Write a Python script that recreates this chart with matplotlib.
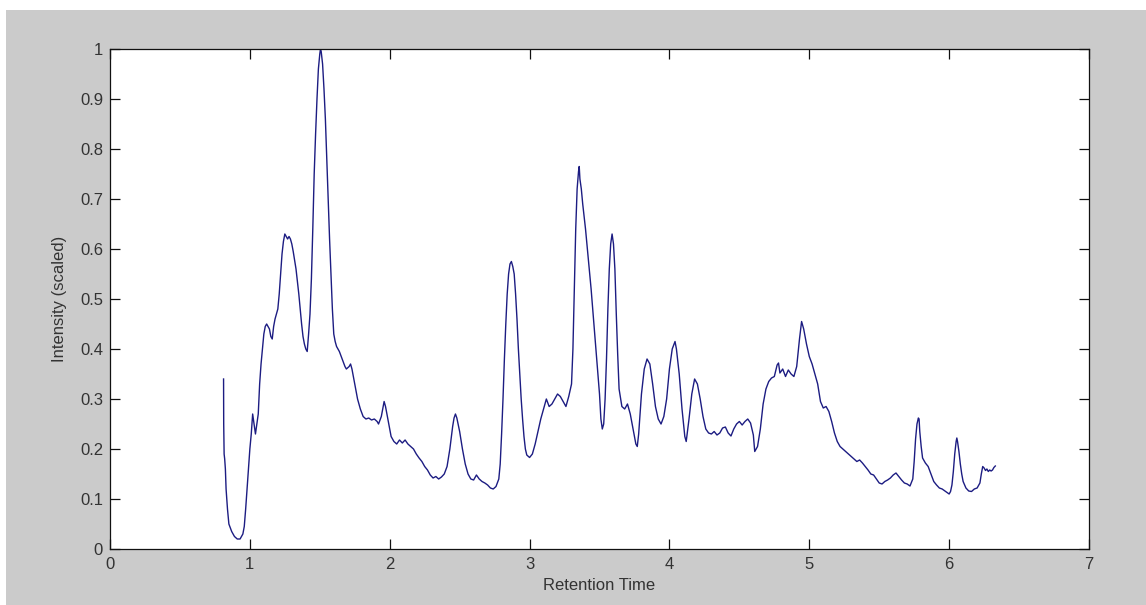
import numpy as np
import matplotlib.pyplot as plt
from matplotlib.patches import Rectangle

plt.rcParams['font.family'] = ['Liberation Sans', 'DejaVu Sans']

# retention time / scaled intensity
rt = [0.812, 0.813, 0.816, 0.82, 0.825, 0.83, 0.84, 0.85, 0.87, 0.89, 0.91, 0.93,
      0.95, 0.96, 0.97, 0.98, 0.99, 1.00, 1.01, 1.02, 1.03, 1.04, 1.05, 1.06,
      1.07, 1.08, 1.09, 1.10, 1.11, 1.12, 1.13, 1.14, 1.15, 1.16, 1.17, 1.18,
      1.19, 1.20, 1.21, 1.22, 1.23, 1.24, 1.25, 1.26, 1.27, 1.28, 1.29, 1.30,
      1.31, 1.33, 1.35, 1.37, 1.38, 1.39, 1.40, 1.41, 1.42, 1.43, 1.44, 1.45,
      1.46, 1.47, 1.48, 1.49, 1.50, 1.505, 1.51, 1.52, 1.53, 1.54, 1.55, 1.56,
      1.57, 1.58, 1.59, 1.60, 1.61, 1.62, 1.64, 1.66, 1.68, 1.69, 1.71, 1.72,
      1.73, 1.75, 1.77, 1.79, 1.81, 1.83, 1.85, 1.87, 1.89, 1.91, 1.92, 1.94,
      1.96, 1.97, 1.99, 2.01, 2.03, 2.05, 2.07, 2.09, 2.11, 2.13, 2.15, 2.17,
      2.19, 2.21, 2.23, 2.25, 2.27, 2.29, 2.31, 2.33, 2.35, 2.37, 2.39, 2.41,
      2.43, 2.45, 2.46, 2.47, 2.48, 2.50, 2.52, 2.54, 2.56, 2.58, 2.60, 2.62,
      2.64, 2.66, 2.68, 2.70, 2.72, 2.74, 2.76, 2.78, 2.79, 2.80, 2.81, 2.82,
      2.83, 2.84, 2.85, 2.86, 2.87, 2.88, 2.89, 2.90, 2.91, 2.92, 2.93, 2.94,
      2.95, 2.96, 2.97, 2.98, 3.00, 3.02, 3.04, 3.06, 3.08, 3.10, 3.12, 3.14,
      3.16, 3.18, 3.20, 3.22, 3.24, 3.26, 3.28, 3.30, 3.31, 3.32, 3.33, 3.34,
      3.35, 3.355, 3.36, 3.37, 3.38, 3.40, 3.42, 3.44, 3.46, 3.48, 3.50, 3.51,
      3.52, 3.53, 3.54, 3.55, 3.56, 3.57, 3.58, 3.59, 3.60, 3.61, 3.62, 3.63,
      3.64, 3.66, 3.68, 3.70, 3.72, 3.74, 3.76, 3.77, 3.78, 3.80, 3.82, 3.84,
      3.86, 3.88, 3.90, 3.92, 3.94, 3.96, 3.98, 4.00, 4.02, 4.04, 4.05, 4.07,
      4.09, 4.11, 4.12, 4.14, 4.16, 4.18, 4.20, 4.22, 4.24, 4.26, 4.28, 4.30,
      4.32, 4.34, 4.36, 4.38, 4.40, 4.42, 4.44, 4.46, 4.48, 4.50, 4.52, 4.54,
      4.56, 4.58, 4.60, 4.61, 4.63, 4.65, 4.67, 4.69, 4.71, 4.73, 4.75, 4.77,
      4.78, 4.79, 4.81, 4.83, 4.85, 4.87, 4.89, 4.91, 4.93, 4.945, 4.96, 4.98,
      5.00, 5.02, 5.04, 5.06, 5.08, 5.10, 5.12, 5.14, 5.16, 5.18, 5.20, 5.22,
      5.24, 5.26, 5.28, 5.30, 5.32, 5.34, 5.36, 5.38, 5.40, 5.42, 5.44, 5.46,
      5.48, 5.50, 5.52, 5.54, 5.56, 5.58, 5.60, 5.62, 5.64, 5.66, 5.68, 5.70,
      5.72, 5.74, 5.75, 5.76, 5.77, 5.78, 5.785, 5.79, 5.80, 5.81, 5.83, 5.85,
      5.87, 5.89, 5.91, 5.93, 5.95, 5.97, 5.99, 6.00, 6.01, 6.02, 6.03, 6.04,
      6.05, 6.055, 6.06, 6.07, 6.08, 6.09, 6.10, 6.12, 6.14, 6.16, 6.18, 6.20,
      6.22, 6.23, 6.24, 6.25, 6.26, 6.27, 6.28, 6.29, 6.30, 6.31, 6.32, 6.33]

intensity = [0.340, 0.250, 0.190, 0.180, 0.160, 0.120, 0.080, 0.050, 0.035, 0.025, 0.020, 0.020,
             0.030, 0.045, 0.080, 0.120, 0.160, 0.200, 0.230, 0.270, 0.250, 0.230, 0.250, 0.270,
             0.330, 0.370, 0.400, 0.430, 0.445, 0.450, 0.445, 0.440, 0.425, 0.420, 0.445, 0.460,
             0.470, 0.480, 0.510, 0.550, 0.590, 0.615, 0.630, 0.625, 0.620, 0.625, 0.620, 0.610,
             0.595, 0.560, 0.510, 0.450, 0.425, 0.410, 0.400, 0.395, 0.430, 0.470, 0.540, 0.640,
             0.750, 0.830, 0.900, 0.960, 0.990, 1.000, 0.995, 0.970, 0.920, 0.860, 0.780, 0.700,
             0.620, 0.550, 0.480, 0.430, 0.415, 0.405, 0.395, 0.380, 0.365, 0.360, 0.365, 0.370,
             0.360, 0.330, 0.300, 0.280, 0.265, 0.260, 0.262, 0.258, 0.260, 0.255, 0.250, 0.265,
             0.295, 0.285, 0.255, 0.225, 0.215, 0.210, 0.218, 0.212, 0.218, 0.210, 0.205, 0.200,
             0.190, 0.182, 0.175, 0.165, 0.158, 0.148, 0.142, 0.145, 0.140, 0.144, 0.150, 0.165,
             0.200, 0.245, 0.262, 0.270, 0.262, 0.235, 0.200, 0.170, 0.150, 0.140, 0.138, 0.148,
             0.140, 0.135, 0.132, 0.128, 0.122, 0.120, 0.125, 0.140, 0.170, 0.230, 0.300, 0.380,
             0.450, 0.510, 0.550, 0.570, 0.575, 0.565, 0.550, 0.510, 0.460, 0.400, 0.350, 0.300,
             0.260, 0.225, 0.200, 0.188, 0.183, 0.190, 0.210, 0.235, 0.260, 0.280, 0.300, 0.285,
             0.290, 0.300, 0.310, 0.305, 0.295, 0.285, 0.305, 0.330, 0.400, 0.520, 0.640, 0.720,
             0.755, 0.765, 0.740, 0.720, 0.690, 0.640, 0.580, 0.520, 0.450, 0.380, 0.310, 0.260,
             0.240, 0.250, 0.300, 0.380, 0.480, 0.560, 0.610, 0.630, 0.610, 0.560, 0.470, 0.390,
             0.320, 0.285, 0.280, 0.290, 0.270, 0.240, 0.210, 0.205, 0.230, 0.310, 0.360, 0.380,
             0.370, 0.330, 0.285, 0.260, 0.250, 0.265, 0.300, 0.360, 0.400, 0.415, 0.400, 0.350,
             0.280, 0.225, 0.215, 0.260, 0.310, 0.340, 0.330, 0.300, 0.265, 0.240, 0.232, 0.230,
             0.235, 0.228, 0.232, 0.242, 0.244, 0.232, 0.226, 0.240, 0.250, 0.255, 0.248, 0.255,
             0.260, 0.252, 0.228, 0.195, 0.205, 0.240, 0.290, 0.320, 0.335, 0.342, 0.345, 0.368,
             0.372, 0.352, 0.360, 0.345, 0.358, 0.350, 0.345, 0.365, 0.420, 0.455, 0.440, 0.410,
             0.385, 0.370, 0.350, 0.330, 0.295, 0.282, 0.285, 0.275, 0.255, 0.232, 0.215, 0.205,
             0.200, 0.195, 0.190, 0.185, 0.180, 0.175, 0.178, 0.172, 0.165, 0.158, 0.150, 0.148,
             0.140, 0.132, 0.130, 0.135, 0.138, 0.142, 0.148, 0.152, 0.145, 0.138, 0.132, 0.130,
             0.126, 0.140, 0.175, 0.220, 0.250, 0.262, 0.260, 0.235, 0.205, 0.182, 0.172, 0.165,
             0.150, 0.135, 0.128, 0.122, 0.120, 0.116, 0.112, 0.110, 0.115, 0.128, 0.155, 0.190,
             0.215, 0.222, 0.215, 0.195, 0.170, 0.150, 0.135, 0.122, 0.116, 0.115, 0.120, 0.122,
             0.132, 0.150, 0.165, 0.162, 0.157, 0.160, 0.155, 0.158, 0.156, 0.158, 0.163, 0.166]

xticks = [0, 1, 2, 3, 4, 5, 6, 7]
yticks = [0, 0.1, 0.2, 0.3, 0.4, 0.5, 0.6, 0.7, 0.8, 0.9, 1]
yticklabels = ['0', '0.1', '0.2', '0.3', '0.4', '0.5', '0.6', '0.7', '0.8', '0.9', '1']

fig = plt.figure(figsize=(11.46, 6.05), dpi=100)
fig.patch.set_facecolor('white')
# grey matlab window background (small white strip at top/left)
fig.patches.append(Rectangle((6 / 1146, 0), 1, 595 / 605, transform=fig.transFigure,
                             facecolor='#cbcbcb', edgecolor='none', zorder=-1))

ax = fig.add_axes([110 / 1146, 56 / 605, 979 / 1146, 500 / 605])
ax.set_facecolor('white')
ax.plot(rt, intensity, color='#1c1c82', linewidth=1.0)

ax.set_xlim(0, 7)
ax.set_ylim(0, 1)
ax.set_xticks(xticks)
ax.set_yticks(yticks)
ax.set_yticklabels(yticklabels)
ax.tick_params(direction='in', length=7, width=0.9, top=True, right=True,
               labelsize=12, colors='#111111', labelcolor='#333333')
ax.tick_params(axis='x', pad=6)
ax.tick_params(axis='y', pad=5)
for s in ax.spines.values():
    s.set_linewidth(0.9)
    s.set_color('#111111')

ax.set_xlabel('Retention Time', fontsize=12, color='#333333', labelpad=4)
ax.set_ylabel('Intensity (scaled)', fontsize=12, color='#333333', labelpad=9)

fig.savefig('out.png', dpi=100, facecolor=fig.get_facecolor())
